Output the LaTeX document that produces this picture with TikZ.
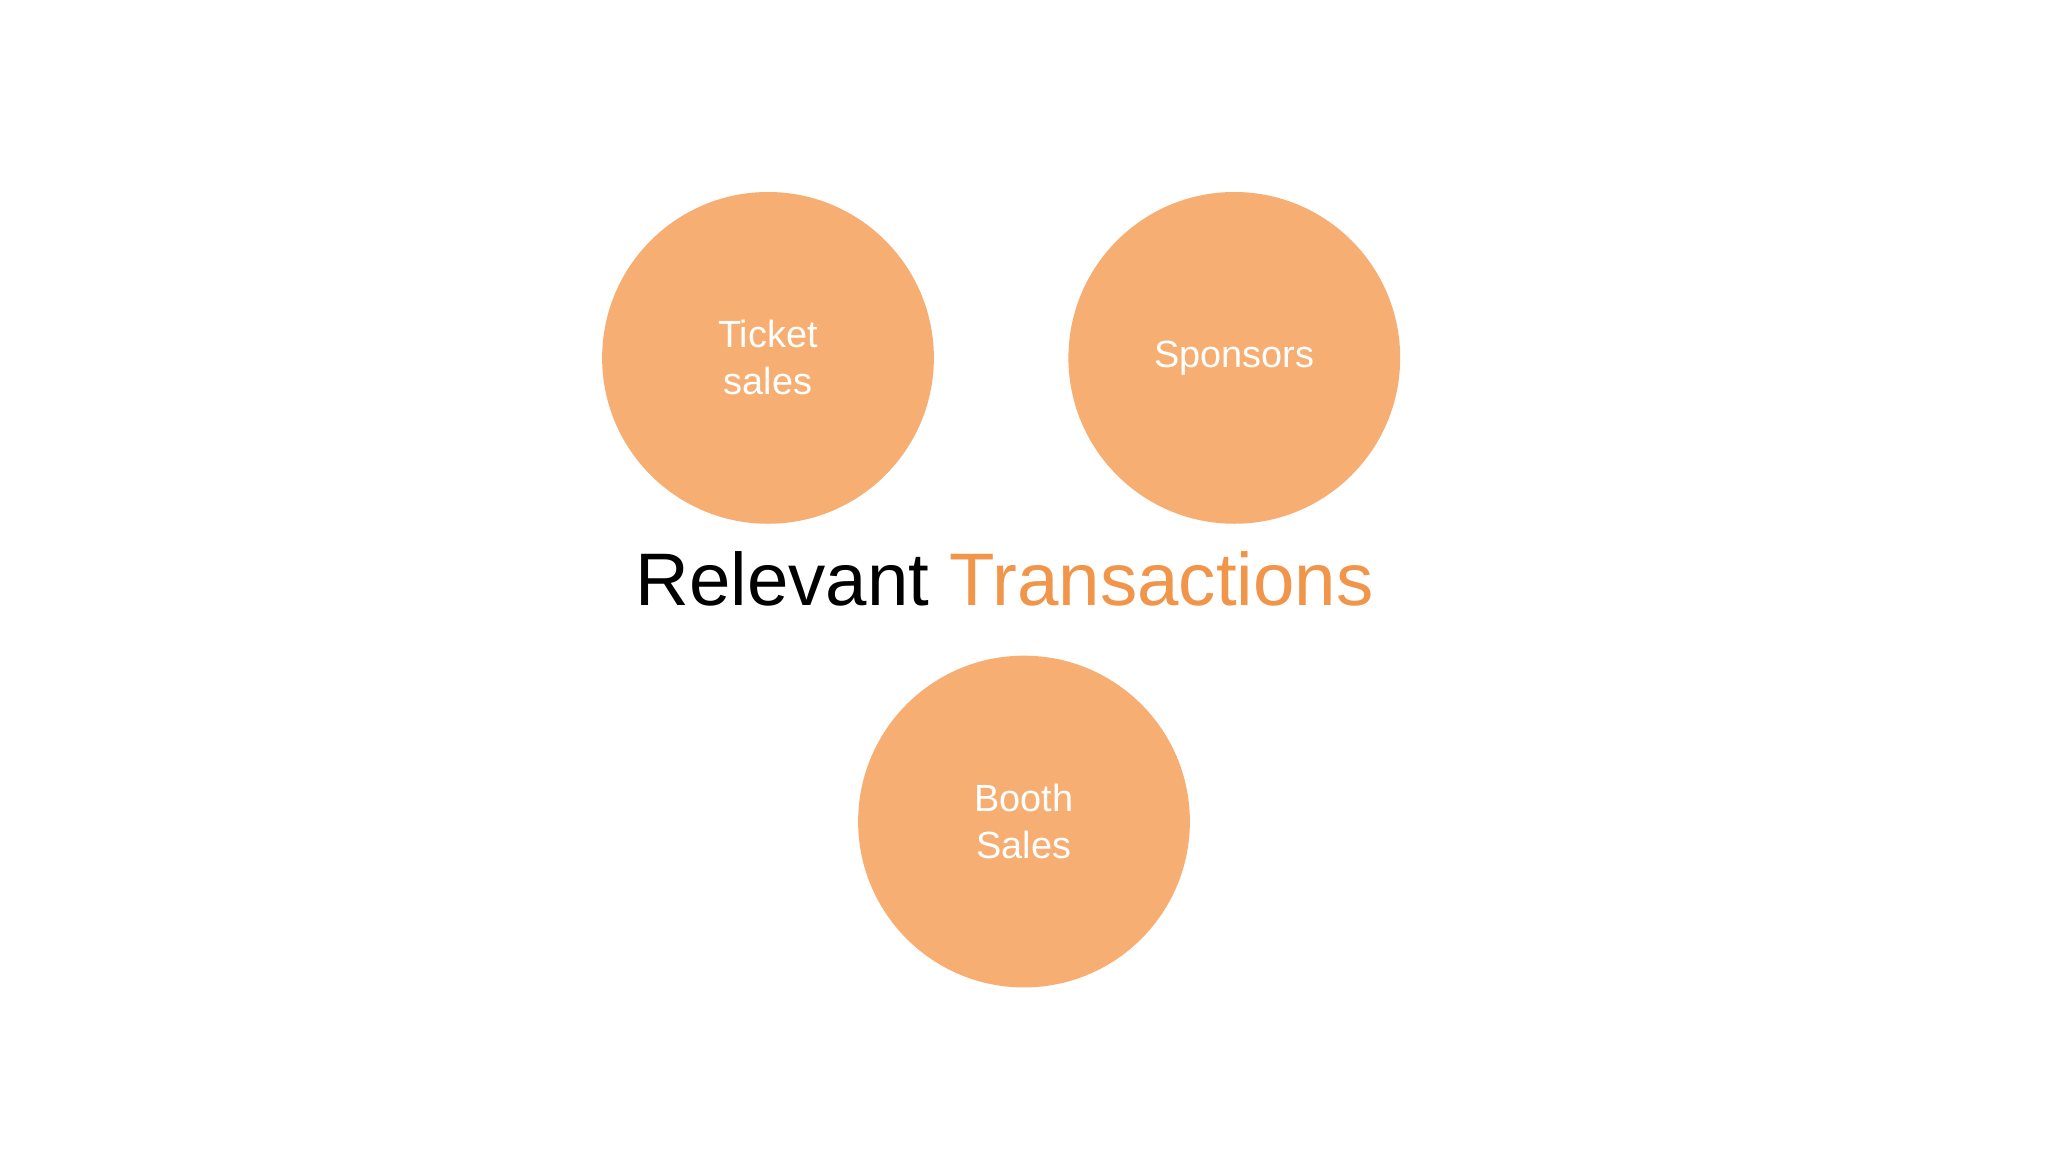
\documentclass[tikz,border=0pt]{standalone}
\usepackage{fontspec}
\setmainfont{Liberation Sans}
\definecolor{circfill}{HTML}{F6AE72}
\definecolor{titleorange}{HTML}{F0954A}
\begin{document}
\begin{tikzpicture}[x=1pt,y=-1pt,
  bubble/.style={circle,fill=circfill,minimum size=254pt,inner sep=0pt,text=white,align=center,font=\fontsize{29}{36}\selectfont}]
\useasboundingbox (0,0) rectangle (1568,882);
\fill[white] (0,0) rectangle (1568,882);
\node[bubble] (ticket) at (588,274) {Ticket\\sales};
\node[bubble] (sponsors) at (945,274) {Sponsors};
\node[bubble] (booth) at (784,629) {Booth\\Sales};
\node[font=\fontsize{57}{60}\selectfont,inner sep=0pt] (title) at (769,443) {Relevant \textcolor{titleorange}{Transactions}};
\end{tikzpicture}
\end{document}
